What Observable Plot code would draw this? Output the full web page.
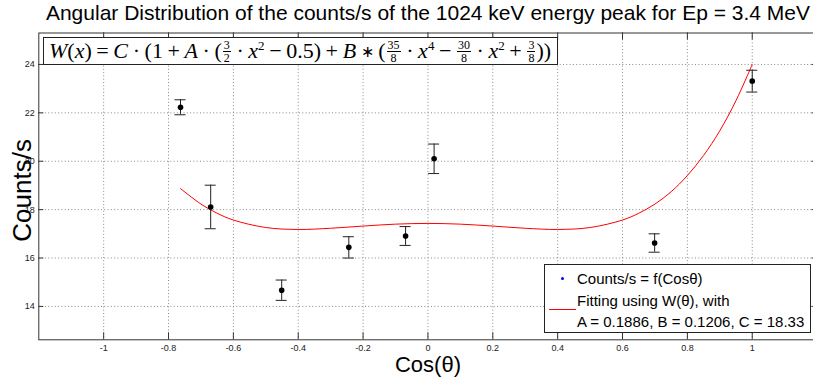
<!DOCTYPE html>
<html>
<head>
<meta charset="utf-8">
<script src="https://cdn.jsdelivr.net/npm/d3@7"></script>
<script src="https://cdn.jsdelivr.net/npm/@observablehq/plot@0.6"></script>
<style>
  body { margin: 0; background: white; }
  #wrap { position: relative; width: 813px; height: 378px; overflow: hidden; }
  #formula {
    position: absolute; left: 43px; top: 37px; width: 515px; height: 28px;
    box-sizing: border-box; border: 1px solid #222; background: white;
    font-family: "Liberation Serif", "Times New Roman", serif; font-size: 22px;
    line-height: 25px; padding-left: 5px; white-space: nowrap; color: #000;
  }
  .frac { display: inline-block; vertical-align: middle; text-align: center; font-size: 12px; line-height: 10px; margin: 0 1px; position: relative; top: -1px; }
  .frac .n { display: block; border-bottom: 1px solid #000; padding: 0 1px 1px 1px; }
  .frac .d { display: block; padding-top: 1px; }
  .op { margin: 0 4.6px; }
  .ast { font-size: 16px; position: relative; top: -1px; }
  sup { font-size: 13px; vertical-align: 8px; line-height: 0; }
  #legend {
    position: absolute; left: 544px; top: 264px; width: 267px; height: 69px;
    box-sizing: border-box; border: 1px solid #222; background: white;
    font-family: "Liberation Sans", Arial, sans-serif; font-size: 15px; color: #000;
  }
  #legend .row { position: absolute; left: 32px; white-space: nowrap; line-height: 18px; }
  #legend .dot { position: absolute; left: 16px; top: 12px; width: 3px; height: 3px; border-radius: 50%; background: #00f; }
  #legend .line { position: absolute; left: 4px; top: 44px; width: 27px; height: 1px; background: #f00; }
</style>
</head>
<body>
<div id="wrap">
  <div id="chart"></div>
  <div id="formula"><i>W</i>(<i>x</i>)<span class="op">=</span><i>C</i><span class="op">·</span>(1<span class="op">+</span><i>A</i><span class="op">·</span>(<span class="frac"><span class="n">3</span><span class="d">2</span></span><span class="op">·</span><i>x</i><sup>2</sup><span class="op">−</span>0.5)<span class="op">+</span><i>B</i><span class="op ast">∗</span>(<span class="frac"><span class="n">35</span><span class="d">8</span></span><span class="op">·</span><i>x</i><sup>4</sup><span class="op">−</span><span class="frac"><span class="n">30</span><span class="d">8</span></span><span class="op">·</span><i>x</i><sup>2</sup><span class="op">+</span><span class="frac"><span class="n">3</span><span class="d">8</span></span>))</div>
  <div id="legend">
    <div class="dot"></div>
    <div class="row" style="top:5px">Counts/s = f(Cosθ)</div>
    <div class="line"></div>
    <div class="row" style="top:27px">Fitting using W(θ), with</div>
    <div class="row" style="top:48px">A = 0.1886, B = 0.1206, C = 18.33</div>
  </div>
</div>
<script>
// Measured points: cos(theta), counts/s, error
const cosTheta = [-0.763, -0.670, -0.451, -0.244, -0.069, 0.019, 0.699, 1.0];
const counts   = [22.23, 18.11, 14.67, 16.44, 16.91, 20.10, 16.62, 23.31];
const errors   = [0.31, 0.90, 0.42, 0.44, 0.39, 0.61, 0.38, 0.45];

// Fitted curve
const fitX = [-0.763, -0.7, -0.65, -0.6, -0.5, -0.4, -0.3, -0.2, -0.1, 0, 0.1, 0.2, 0.3, 0.4, 0.5, 0.6, 0.65, 0.7, 0.75, 0.8, 0.85, 0.9, 0.95, 1.0];
const fitY = [18.87, 18.23, 17.85, 17.57, 17.26, 17.18, 17.23, 17.32, 17.40, 17.43, 17.40, 17.32, 17.23, 17.18, 17.26, 17.57, 17.85, 18.23, 18.74, 19.41, 20.24, 21.26, 22.51, 24.00];

const xTicks = [-1, -0.8, -0.6, -0.4, -0.2, 0, 0.2, 0.4, 0.6, 0.8, 1];
const yTicks = [14, 16, 18, 20, 22, 24];

const titleText = "Angular Distribution of the counts/s of the 1024 keV energy peak for Ep = 3.4 MeV";
const xLabel = "Cos(θ)";
const yLabel = "Counts/s";

const points = cosTheta.map((x, i) => ({x, y: counts[i], e: errors[i]}));
const fit = fitX.map((x, i) => ({x, y: fitY[i]}));

const W = 813, H = 378;
const mT = 32.5, mL = 38.3, mB = 38.7, mR = -3.6;
const fw = W - mL - mR, fh = H - mT - mB;
const cap = 0.017;
const font = "'Liberation Sans', Arial, sans-serif";

const chart = Plot.plot({
  width: W, height: H,
  marginTop: mT, marginLeft: mL, marginBottom: mB, marginRight: mR,
  x: {domain: [-1.2, 1.2]},
  y: {domain: [12.62, 25.3]},
  style: {fontFamily: font, fontSize: "9px", background: "white", color: "#222"},
  marks: [
    Plot.gridX(xTicks, {stroke: "#888", strokeOpacity: 1, strokeDasharray: "1,2.3"}),
    Plot.gridY(yTicks, {stroke: "#888", strokeOpacity: 1, strokeDasharray: "1,2.3"}),
    Plot.frame({stroke: "#333"}),
    Plot.tickX(xTicks, {x: d => d, insetTop: fh - 7, stroke: "#333"}),
    Plot.tickX(xTicks, {x: d => d, insetBottom: fh - 7, stroke: "#333"}),
    Plot.tickY(yTicks, {y: d => d, insetRight: fw - 5, stroke: "#333"}),
    Plot.tickY(yTicks, {y: d => d, insetLeft: fw - 5, stroke: "#333"}),
    Plot.axisX(xTicks, {tickSize: 0, tickPadding: 5, fontSize: 9, tickFormat: d => String(d), label: null, fill: "#222"}),
    Plot.axisY(yTicks, {tickSize: 0, tickPadding: 4, fontSize: 9, tickFormat: d => String(d), label: null, fill: "#222"}),
    Plot.line(fit, {x: "x", y: "y", stroke: "#ff0000", strokeWidth: 1, curve: "catmull-rom"}),
    Plot.ruleX(points, {x: "x", y1: d => d.y - d.e, y2: d => d.y + d.e, stroke: "#222"}),
    Plot.ruleY(points, {x1: d => d.x - cap, x2: d => d.x + cap, y: d => d.y + d.e, stroke: "#222"}),
    Plot.ruleY(points, {x1: d => d.x - cap, x2: d => d.x + cap, y: d => d.y - d.e, stroke: "#222"}),
    Plot.dot(points, {x: "x", y: "y", r: 2.8, fill: "black", stroke: null}),
    Plot.text([titleText], {text: d => d, frameAnchor: "top", dy: -19.5, lineAnchor: "middle", textAnchor: "middle", fontSize: 21, fill: "black"}),
    Plot.text([xLabel], {text: d => d, frameAnchor: "bottom", dy: 25, lineAnchor: "middle", textAnchor: "middle", fontSize: 22, fill: "black"}),
    Plot.text([yLabel], {text: d => d, frameAnchor: "left", dx: -16, dy: 4, rotate: -90, lineAnchor: "middle", textAnchor: "middle", fontSize: 26, fill: "black"})
  ]
});
document.getElementById("chart").appendChild(chart);
</script>
</body>
</html>
